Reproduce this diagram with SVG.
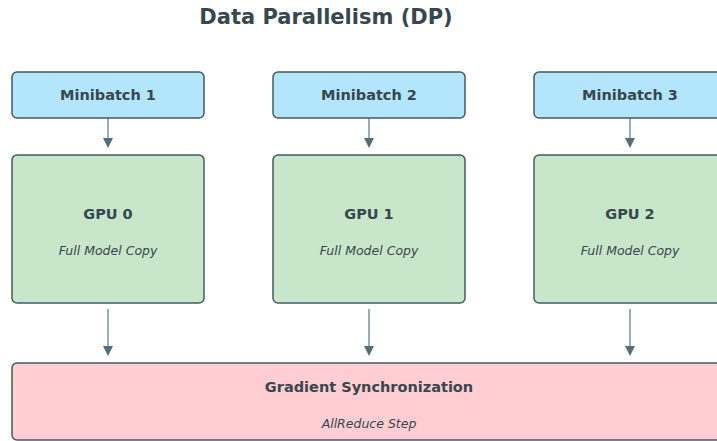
<svg xmlns="http://www.w3.org/2000/svg" width="717" height="441" viewBox="0 0 717 441">
<defs>
<style>
.box{stroke:#455a64;stroke-width:1.5}
.mb{fill:#b3e5fc}
.gpu{fill:#c8e6c9}
.sync{fill:#ffcdd2}
.t{font-family:"DejaVu Sans",sans-serif;fill:#37474f;text-anchor:middle}
.b{font-weight:bold;font-size:14.5px}
.i{font-style:italic;font-size:12.5px}
.ln{stroke:#78909c;stroke-width:1.5}
.hd{fill:#546e7a}
</style>
</defs>
<rect width="717" height="441" fill="#ffffff"/>
<text class="t" x="326" y="24" style="font-weight:bold;font-size:21px">Data Parallelism (DP)</text>
<g id="connectors">
<path class="ln" d="M108,118 V140"/>
<path class="hd" d="M103,138 L113,138 L108,148 Z"/>
<path class="ln" d="M369,118 V140"/>
<path class="hd" d="M364,138 L374,138 L369,148 Z"/>
<path class="ln" d="M630,118 V140"/>
<path class="hd" d="M625,138 L635,138 L630,148 Z"/>
<path class="ln" d="M108,309 V348"/>
<path class="hd" d="M103,346 L113,346 L108,356 Z"/>
<path class="ln" d="M369,309 V348"/>
<path class="hd" d="M364,346 L374,346 L369,356 Z"/>
<path class="ln" d="M630,309 V348"/>
<path class="hd" d="M625,346 L635,346 L630,356 Z"/>
</g>
<g id="mb1"><rect class="box mb" x="12" y="72" width="192" height="46" rx="5"/><text class="t b" x="108" y="100">Minibatch 1</text></g>
<g id="mb2"><rect class="box mb" x="273" y="72" width="192" height="46" rx="5"/><text class="t b" x="369" y="100">Minibatch 2</text></g>
<g id="mb3"><rect class="box mb" x="534" y="72" width="192" height="46" rx="5"/><text class="t b" x="630" y="100">Minibatch 3</text></g>
<g id="gpu0"><rect class="box gpu" x="12" y="155" width="192" height="148" rx="5"/><text class="t b" x="108" y="219">GPU 0</text><text class="t i" x="108" y="255">Full Model Copy</text></g>
<g id="gpu1"><rect class="box gpu" x="273" y="155" width="192" height="148" rx="5"/><text class="t b" x="369" y="219">GPU 1</text><text class="t i" x="369" y="255">Full Model Copy</text></g>
<g id="gpu2"><rect class="box gpu" x="534" y="155" width="192" height="148" rx="5"/><text class="t b" x="630" y="219">GPU 2</text><text class="t i" x="630" y="255">Full Model Copy</text></g>
<g id="sync"><rect class="box sync" x="12" y="363" width="714" height="77" rx="5"/><text class="t b" x="369" y="392">Gradient Synchronization</text><text class="t i" x="369" y="428">AllReduce Step</text></g>
</svg>
